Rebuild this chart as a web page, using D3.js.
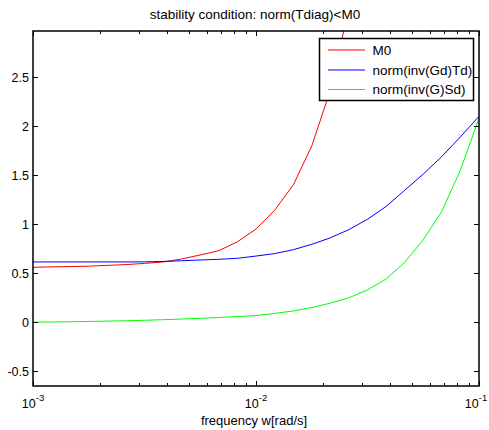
<!DOCTYPE html>
<html>
<head>
<meta charset="utf-8">
<script src="https://cdn.jsdelivr.net/npm/d3@7"></script>
<style>
  body { margin: 0; background: #fff; }
  svg { display: block; font-family: "Liberation Sans", Arial, sans-serif; }
</style>
</head>
<body>
<svg id="chart" width="489" height="430"></svg>
<script>
// ---- data ----
const freq = [0.001, 0.00121, 0.00147, 0.00178, 0.00215, 0.00261, 0.00316, 0.00383, 0.00464, 0.00562,
              0.00681, 0.00825, 0.01, 0.0121, 0.0147, 0.0178, 0.0215, 0.0261, 0.0316, 0.0383,
              0.0464, 0.0562, 0.0681, 0.0825, 0.1];
const M0 = [0.56, 0.565, 0.568, 0.572, 0.58, 0.588, 0.60, 0.615, 0.645, 0.686,
            0.73, 0.82, 0.95, 1.14, 1.40, 1.80, 2.36, 3.2, 4.3, 5.7,
            7.5, 9.8, 12.7, 16.5, 21];
const GdTd = [0.615, 0.615, 0.615, 0.615, 0.615, 0.615, 0.616, 0.62, 0.627, 0.635,
              0.642, 0.652, 0.675, 0.70, 0.74, 0.795, 0.86, 0.945, 1.05, 1.18,
              1.345, 1.51, 1.69, 1.89, 2.10];
const GSd = [0.0, 0.003, 0.005, 0.008, 0.012, 0.015, 0.02, 0.026, 0.033, 0.04,
             0.049, 0.058, 0.068, 0.09, 0.115, 0.15, 0.195, 0.25, 0.33, 0.44,
             0.61, 0.84, 1.13, 1.55, 2.08];
const seriesNames = ["M0", "norm(inv(Gd)Td)", "norm(inv(G)Sd)"];
const seriesColors = ["#ff0000", "#0000ff", "#00ff00"];
const yTicks = [-0.5, 0, 0.5, 1, 1.5, 2, 2.5];
const xMajor = [0.001, 0.01, 0.1];
const xExp = ["-3", "-2", "-1"];
const title = "stability condition: norm(Tdiag)<M0";
const xLabel = "frequency w[rad/s]";

// ---- layout ----
const L = 33, R = 479, T = 31, B = 386;
const svg = d3.select("#chart");
const x = d3.scaleLog().domain([0.001, 0.1]).range([L, R]);
const y = d3.scaleLinear().domain([-0.65, 2.97]).range([B, T]);

svg.append("rect").attr("x", L).attr("y", T).attr("width", R - L).attr("height", B - T).attr("fill", "#fff");

svg.append("clipPath").attr("id", "clip").append("rect")
  .attr("x", L).attr("y", T).attr("width", R - L).attr("height", B - T);

const line = d3.line().x((d, i) => x(freq[i])).y(d => y(d));
const allSeries = [M0, GdTd, GSd];
const g = svg.append("g").attr("clip-path", "url(#clip)");
allSeries.forEach((s, k) => {
  g.append("path").datum(s).attr("d", line).attr("fill", "none")
    .attr("stroke", seriesColors[k]).attr("stroke-width", 1);
});

// minor ticks for log axis
const minor = [];
[0.001, 0.01].forEach(dec => { for (let m = 2; m <= 9; m++) minor.push(dec * m); });

const tickG = svg.append("g").attr("stroke", "#000").attr("stroke-width", 1);
xMajor.forEach(v => {
  const px = Math.round(x(v)) + 0.5;
  tickG.append("line").attr("x1", px).attr("x2", px).attr("y1", B).attr("y2", B - 5);
  tickG.append("line").attr("x1", px).attr("x2", px).attr("y1", T).attr("y2", T + 5);
});
minor.forEach(v => {
  const px = Math.round(x(v)) + 0.5;
  tickG.append("line").attr("x1", px).attr("x2", px).attr("y1", B).attr("y2", B - 3);
  tickG.append("line").attr("x1", px).attr("x2", px).attr("y1", T).attr("y2", T + 3);
});
yTicks.forEach(v => {
  const py = Math.round(y(v)) + 0.5;
  tickG.append("line").attr("x1", L).attr("x2", L + 5).attr("y1", py).attr("y2", py);
  tickG.append("line").attr("x1", R).attr("x2", R - 5).attr("y1", py).attr("y2", py);
});

// box
svg.append("rect").attr("x", L).attr("y", T).attr("width", R - L).attr("height", B - T)
  .attr("fill", "none").attr("stroke", "#000").attr("stroke-width", 1.5);

// y labels
svg.append("g").selectAll("text").data(yTicks).join("text")
  .attr("x", L - 4).attr("y", d => y(d)).attr("dy", "0.36em")
  .attr("text-anchor", "end").attr("font-size", 12.5).attr("fill", "#000")
  .text(d => d);

// x labels
const xl = svg.append("g").selectAll("text").data(xMajor).join("text")
  .attr("x", d => Math.min(x(d), 476)).attr("y", 408)
  .attr("text-anchor", "middle").attr("font-size", 12.5).attr("fill", "#000");
xl.append("tspan").text("10");
xl.append("tspan").attr("dy", -7).attr("font-size", 9.5).text((d, i) => xExp[i]);

svg.append("text").attr("x", 254).attr("y", 425).attr("text-anchor", "middle")
  .attr("font-size", 13).text(xLabel);
svg.append("text").attr("x", 255).attr("y", 19).attr("text-anchor", "middle")
  .attr("font-size", 13.5).text(title);

// legend
const lg = svg.append("g");
lg.append("rect").attr("x", 319.5).attr("y", 38.5).attr("width", 154).attr("height", 62)
  .attr("fill", "#fff").attr("stroke", "#000").attr("stroke-width", 1.5);
const legY = [50, 70, 89.5];
seriesNames.forEach((n, k) => {
  lg.append("line").attr("x1", 328).attr("x2", 365).attr("y1", legY[k]).attr("y2", legY[k])
    .attr("stroke", seriesColors[k]).attr("stroke-width", 1);
  lg.append("text").attr("x", 372.5).attr("y", legY[k]).attr("dy", "0.36em")
    .attr("font-size", 13.5).text(n);
});
</script>
</body>
</html>
